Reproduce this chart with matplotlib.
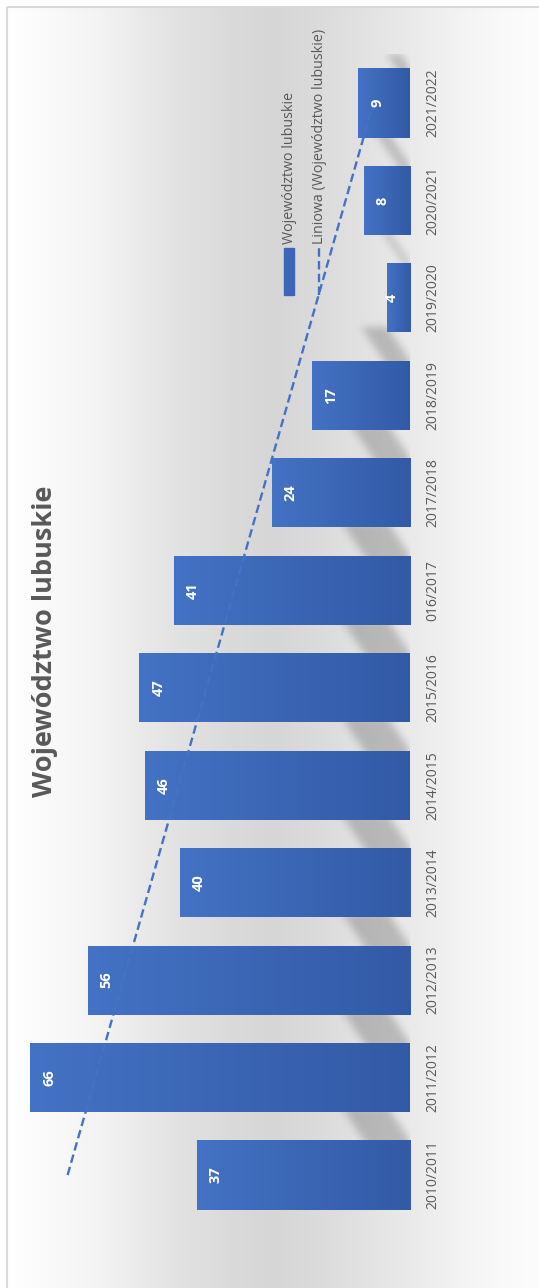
import numpy as np
import matplotlib.pyplot as plt
from matplotlib.patches import Rectangle
from matplotlib.colors import LinearSegmentedColormap

plt.rcParams['font.family'] = ['Open Sans', 'DejaVu Sans']

years = ['2010/2011', '2011/2012', '2012/2013', '2013/2014', '2014/2015', '2015/2016',
         '016/2017', '2017/2018', '2018/2019', '2019/2020', '2020/2021', '2021/2022']
counts = [37, 66, 56, 40, 46, 47, 41, 24, 17, 4, 8, 9]
title = 'Województwo lubuskie'
series_name = 'Województwo lubuskie'
trend_name = 'Liniowa (Województwo lubuskie)'

W, H = 539, 1288
GREY = '#595959'
BLUE = '#4472C4'

fig = plt.figure(figsize=(W / 100, H / 100), dpi=100)

# background panel, pixel coordinates (y grows downward)
bg = fig.add_axes([0, 0, 1, 1])
stops_x = [7, 33, 100, 167, 233, 275, 333, 400, 450, 500, 539]
stops_v = [255, 252, 243, 228, 218, 214, 221, 232, 241, 249, 252]
shade = np.interp(np.arange(7, W) + 0.5, stops_x, stops_v) / 255
grad = np.repeat(shade[None, :, None], 3, axis=2)
bg.imshow(grad, extent=[7, W, H, 7], aspect='auto', interpolation='bilinear')
bg.add_patch(Rectangle((6.5, 6.5), W, H, fill=False, ec='#d9d9d9', lw=1.5))
bg.set_xlim(0, W)
bg.set_ylim(H, 0)
bg.axis('off')

# main plot, drawn as horizontal bars growing to the left
n = len(years)
pos = np.arange(n)
h = 0.71
xmax = 70
ax = fig.add_axes([7 / W, (H - 1223.75) / H, 403 / W, 1169.5 / H])
ax.patch.set_alpha(0)

# soft slanted shadows in the gaps above each bar
nu, npx = 403, 1170
uu = (np.arange(nu) + 0.5) * xmax / nu
pp = -0.5 + (np.arange(npx) + 0.5) * n / npx
U, P = np.meshgrid(uu, pp)
slant = 1 / 11.3
mask = np.zeros_like(U)
for p, v in zip(pos, counts):
    top = p + h / 2
    reach = 8 * min(1, v / 30)
    q = P - slant * U
    inside = (q <= top) & (q >= top - slant * reach) & (P >= p) & (P <= p + 1 - h / 2 + 0.06)
    mask[inside] = 1
k = np.exp(-0.5 * (np.arange(-12, 13) / 4) ** 2)
k /= k.sum()
mask = np.apply_along_axis(lambda r: np.convolve(r, k, mode='same'), 1, mask)
mask = np.apply_along_axis(lambda c: np.convolve(c, k, mode='same'), 0, mask)
rgba = np.zeros((npx, nu, 4))
rgba[..., 3] = 0.2 * mask
ax.imshow(rgba, extent=[0, xmax, -0.5, n - 0.5], origin='lower', aspect='auto',
          interpolation='bilinear', zorder=1)

bars = ax.barh(pos, counts, height=h, color='#3D66B8', zorder=2)
bar_cmap = LinearSegmentedColormap.from_list('bar', ['#325AA6', BLUE])
ramp = np.linspace(0, 1, 256)[None, :]
for b in bars:
    x0, y0 = b.get_x(), b.get_y()
    im = ax.imshow(ramp, cmap=bar_cmap, aspect='auto', zorder=3,
                   extent=[x0, x0 + b.get_width(), y0, y0 + b.get_height()])
    im.set_clip_path(b)

# linear trend
slope, inter = np.polyfit(pos, counts, 1)
ax.plot(slope * pos + inter, pos, color=BLUE, lw=1.7, ls=(0, (3.6, 1.8)), zorder=4)

# value labels at the inner end of each bar
px_per_unit = 403 / xmax
for p, v in zip(pos, counts):
    off = min(19, v * px_per_unit - 18)
    ax.annotate(str(v), (v, p), xytext=(off * 0.72, 0), textcoords='offset points',
                rotation=90, ha='center', va='center', color='white',
                fontsize=10.5, fontweight='bold', zorder=5)

ax.set_xlim(xmax, 0)
ax.set_ylim(-0.5, n - 0.5)
for s in ax.spines.values():
    s.set_visible(False)
ax.xaxis.set_visible(False)
ax.yaxis.tick_right()
ax.set_yticks(pos)
ax.set_yticklabels(years, rotation=90, fontsize=10, color=GREY, va='center')
ax.tick_params(axis='y', length=0, pad=11)

fig.text(45 / W, 1 - 641 / H, title, rotation=90, ha='center', va='center',
         fontsize=19.5, fontweight='bold', color=GREY)

# legend
bg.add_patch(Rectangle((284, 248), 10, 47, color='#3D66B8'))
bg.text(289.5, 244, series_name, rotation=90, ha='center', va='bottom',
        fontsize=10.3, color=GREY)
bg.plot([319, 319], [295, 248], color=BLUE, lw=1.7, ls=(0, (3.6, 1.8)))
bg.text(319.5, 244, trend_name, rotation=90, ha='center', va='bottom',
        fontsize=10.3, color=GREY)

fig.savefig('out.png', dpi=100)
